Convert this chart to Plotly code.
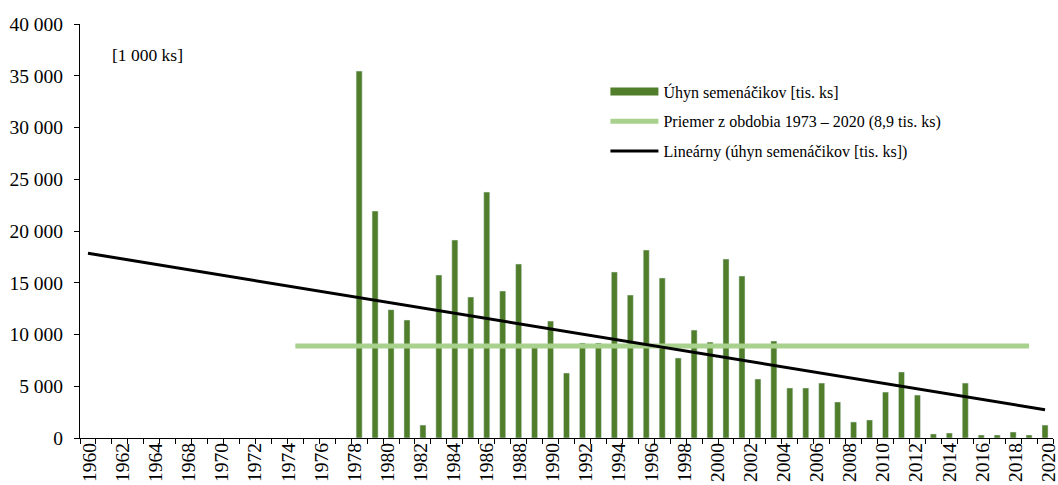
import plotly.graph_objects as go

# ---- data ----
bar_years = list(range(1977, 2021))
bar_values = [35450, 21930, 12400, 11400, 1250, 15750, 19130, 13620, 23760, 14200,
              16810, 8790, 11300, 6280, 9180, 9180, 16040, 13810, 18160, 15460,
              7730, 10430, 9270, 17290, 15650, 5700, 9370, 4830, 4830, 5310,
              3480, 1550, 1740, 4440, 6380, 4150, 390, 480, 5310, 290,
              290, 580, 290, 1250]
avg_years = [1973, 2019]
avg_values = [8900, 8900]
trend_years = [1960, 2020]
trend_values = [17850, 2730]
x_tick_labels = ["1960", "1962", "1964", "1968", "1970", "1972", "1974", "1976", "1978",
                 "1980", "1982", "1984", "1986", "1988", "1990", "1992", "1994", "1996",
                 "1998", "2000", "2002", "2004", "2006", "2008", "2010", "2012", "2014",
                 "2016", "2018", "2020"]
name_bars = "Úhyn semenáčikov [tis. ks]"
name_avg = "Priemer z obdobia 1973 – 2020 (8,9 tis. ks)"
name_trend = "Lineárny (úhyn semenáčikov [tis. ks])"

BAR_COLOR = "#507E2B"
AVG_COLOR = "#A9D18E"
FONT = "Liberation Serif"

fig = go.Figure()
fig.add_trace(go.Bar(x=bar_years, y=bar_values, marker_color=BAR_COLOR,
                     width=0.38, name=name_bars, showlegend=False))
# legend-only entry for the bars (wide rectangle symbol)
fig.add_trace(go.Scatter(x=[None], y=[None], mode="lines", name=name_bars,
                         line=dict(color=BAR_COLOR, width=8), legendgroup="a"))
fig.add_trace(go.Scatter(x=avg_years, y=avg_values, mode="lines", name=name_avg,
                         line=dict(color=AVG_COLOR, width=5), legendgroup="b"))
fig.add_trace(go.Scatter(x=trend_years, y=trend_values, mode="lines", name=name_trend,
                         line=dict(color="black", width=3), legendgroup="c"))
# carrier for the label axis
fig.add_trace(go.Scatter(x=list(range(len(x_tick_labels))), y=[None] * len(x_tick_labels),
                         xaxis="x2", mode="lines", showlegend=False, hoverinfo="skip"))

fig.update_layout(
    width=1058, height=485,
    margin=dict(l=80, r=5, t=24, b=47),
    plot_bgcolor="white", paper_bgcolor="white",
    font=dict(family=FONT, size=18, color="black"),
    separators=", ",
    showlegend=True,
    legend=dict(x=0.540, y=0.878, xanchor="left", yanchor="top",
                font=dict(family=FONT, size=16, color="black"),
                bgcolor="rgba(0,0,0,0)", tracegroupgap=6, itemwidth=48,
                traceorder="grouped"),
    xaxis=dict(range=[1959.5, 2020.5], showgrid=False, zeroline=False,
               showline=True, linecolor="black", linewidth=1, automargin=False,
               tickmode="linear", tick0=1959.5, dtick=1, ticks="outside",
               ticklen=5, tickcolor="black", showticklabels=False),
    xaxis2=dict(overlaying="x", anchor="y", side="bottom", automargin=False,
                range=[-0.30, 29.14], showgrid=False, zeroline=False, showline=False,
                tickmode="array", tickvals=list(range(len(x_tick_labels))),
                ticktext=x_tick_labels, ticks="", tickangle=-90,
                ticklabeloverflow="allow",
                tickfont=dict(family=FONT, size=19.5, color="black")),
    yaxis=dict(range=[0, 40000], dtick=5000, tick0=0, showgrid=False, zeroline=False,
               showline=True, linecolor="black", linewidth=1, ticks="outside",
               ticklen=5, tickcolor="black", tickformat=",d", separatethousands=True,
               ticklabelstandoff=7, automargin=False,
               tickfont=dict(family=FONT, size=19.5, color="black")),
    annotations=[dict(text="[1 000 ks]", xref="paper", yref="paper", x=0.031, y=0.925,
                      xanchor="left", yanchor="middle", showarrow=False,
                      font=dict(family=FONT, size=17.5, color="black"))],
)

fig.write_html("out.html", config={"displayModeBar": False},
               post_script="document.body.style.margin='0';document.body.style.overflow='hidden';")
